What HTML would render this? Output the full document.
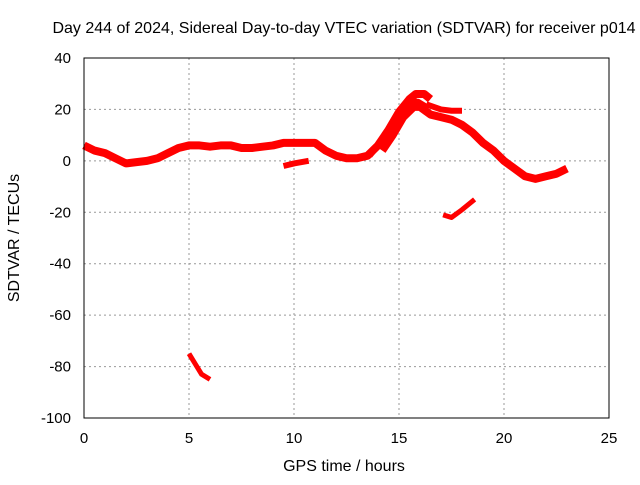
<!DOCTYPE html>
<html><head><meta charset="utf-8"><style>
body{margin:0;background:#fff}
svg text{font-family:"Liberation Sans",sans-serif;font-size:15px;fill:#000}
</style></head><body>
<svg id="chart" width="640" height="480" xmlns="http://www.w3.org/2000/svg">
<text x="344" y="33" text-anchor="middle" style="font-size:16px">Day 244 of 2024, Sidereal Day-to-day VTEC variation (SDTVAR) for receiver p014</text>
<g id="grid"></g><g id="series"></g>
<rect x="84" y="58" width="525" height="360" fill="none" stroke="#000"/>
<g id="ticks"></g>
<text x="344" y="471" text-anchor="middle" style="font-size:16px">GPS time / hours</text>
<text transform="translate(19,238) rotate(-90)" text-anchor="middle" style="font-size:16px">SDTVAR / TECUs</text>
</svg>
<script>
const xTicks=[0,5,10,15,20,25];
const yTicks=[40,20,0,-20,-40,-60,-80,-100];
const mainHours=[0,0.5,1,1.5,2,2.5,3,3.5,4,4.5,5,5.5,6,6.5,7,7.5,8,8.5,9,9.5,10,10.5,11,11.5,12,12.5,13,13.5,14,14.5,15,15.5,15.8,16.2,16.5];
const mainVals=[6,4,3,1,-1,-0.5,0,1,3,5,6,6,5.5,6,6,5,5,5.5,6,7,7,7,7,4,2,1,1,2,6,12,19,24,26,26,24];
const fallHours=[14.2,14.7,15.2,15.7,16,16.5,17,17.5,18,18.5,19,19.5,20,20.5,21,21.5,22,22.5,23];
const fallVals=[4,10,17,21,21,18,17,16,14,11,7,4,0,-3,-6,-7,-6,-5,-3];
const riseHours=[13.6,14.1,14.6,15.1,15.6,15.9,16.3];
const riseVals=[2,7,14,20,23,23,21];
const upperHours=[16.3,17,17.5,18];
const upperVals=[22,20,19.5,19.5];
const dipHours=[9.5,10,10.7];
const dipVals=[-2,-1,0];
const midHours=[17.1,17.5,18,18.6];
const midVals=[-21,-22,-19,-15];
const lowHours=[5,5.3,5.6,6];
const lowVals=[-75,-79,-83,-85];
const X=h=>84+h*21, Y=v=>58+(40-v)*360/140;
const NS="http://www.w3.org/2000/svg";
const grid=document.getElementById('grid'),ticks=document.getElementById('ticks'),ser=document.getElementById('series');
function mk(p,t,a){const e=document.createElementNS(NS,t);for(const k in a)e.setAttribute(k,a[k]);p.appendChild(e);return e;}
xTicks.forEach(t=>{
 if(t>0&&t<25){const g=mk(grid,'line',{x1:X(t),x2:X(t),y1:58,y2:418,stroke:'#999','stroke-dasharray':'2,3'});
 
 }
 const l=mk(ticks,'text',{x:X(t),y:443,'text-anchor':'middle'});l.textContent=t;
 
 
});
yTicks.forEach(t=>{
 if(t<40&&t>-100){const g=mk(grid,'line',{x1:84,x2:609,y1:Y(t),y2:Y(t),stroke:'#999','stroke-dasharray':'2,3'});
 
 }
 const l=mk(ticks,'text',{x:71,y:Y(t)+5,'text-anchor':'end'});l.textContent=t;
 
 
});
function line(hs,vs,name,w){
 const p=mk(ser,'polyline',{points:hs.map((h,i)=>X(h)+','+Y(vs[i])).join(' '),fill:'none',stroke:'#f00','stroke-width':w,'stroke-linejoin':'round','stroke-linecap':'butt'});
 
 
}
line(mainHours,mainVals,'series-main',8);
line(fallHours,fallVals,'series-decline',8);
line(riseHours,riseVals,'series-rise-branch',6);
line(upperHours,upperVals,'series-upper-branch',6);
line(dipHours,dipVals,'series-dip',6);
line(midHours,midVals,'series-mid-segment',5);
line(lowHours,lowVals,'series-low-segment',5);
</script>
</body></html>
